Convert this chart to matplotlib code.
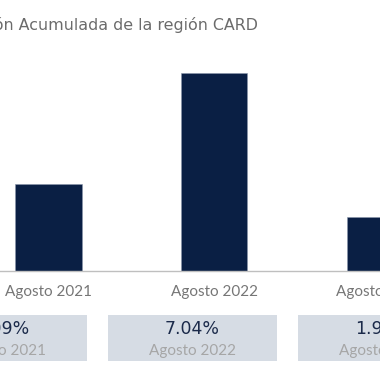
import matplotlib.pyplot as plt
from matplotlib.patches import Rectangle

plt.rcParams['font.family'] = ['Lato', 'DejaVu Sans']

categories = ["Agosto 2021", "Agosto 2022", "Agosto 2023"]
values = [3.09, 7.04, 1.93]
value_labels = ["3.09%", "7.04%", "1.93%"]
title = "Inflación Acumulada de la región CARD"

navy = '#0a1f44'
box_color = '#d6dce4'

fig = plt.figure(figsize=(3.8, 3.8), dpi=100)

# bar chart, axes spans whole width so the outer bars are cut like the source
ax = fig.add_axes([0, 0.2868, 1, 0.591])
x = list(range(len(categories)))
ax.bar(x, values, width=0.402, color=navy, edgecolor='#8a96ab', linewidth=0.4)
ax.set_xlim(-48.5 / 166.5, (380 - 48.5) / 166.5)
ax.set_ylim(0, 8)
ax.set_xticks(x)
ax.set_xticklabels(categories, fontsize=11, color='#767676')
ax.tick_params(axis='x', length=0, pad=10)
ax.set_yticks([])
for s in ['top', 'left', 'right']:
    ax.spines[s].set_visible(False)
ax.spines['bottom'].set_color('#bfbfbf')
ax.spines['bottom'].set_linewidth(1)

# summary boxes below the chart, in pixel coordinates
bx = fig.add_axes([0, 0, 1, 1])
bx.set_xlim(0, 380)
bx.set_ylim(380, 0)
bx.axis('off')
bx.patch.set_alpha(0)
for i, (val, cat) in enumerate(zip(value_labels, categories)):
    cx = 2.3 + 190 * i
    bx.add_patch(Rectangle((cx - 84.5, 315), 169, 46, color=box_color, lw=0))
    bx.text(cx, 329, val, ha='center', va='center', fontsize=12.5,
            color='#1b2a4a', family='DejaVu Sans')
    bx.text(cx, 351, cat, ha='center', va='center', fontsize=11, color='#a6a6a6')

fig.text(258 / 380, 1 - 25 / 380, title, ha='right', va='center', fontsize=11.4,
         color='#6b6b6b', family='DejaVu Sans')

plt.savefig('out.png', dpi=100)
